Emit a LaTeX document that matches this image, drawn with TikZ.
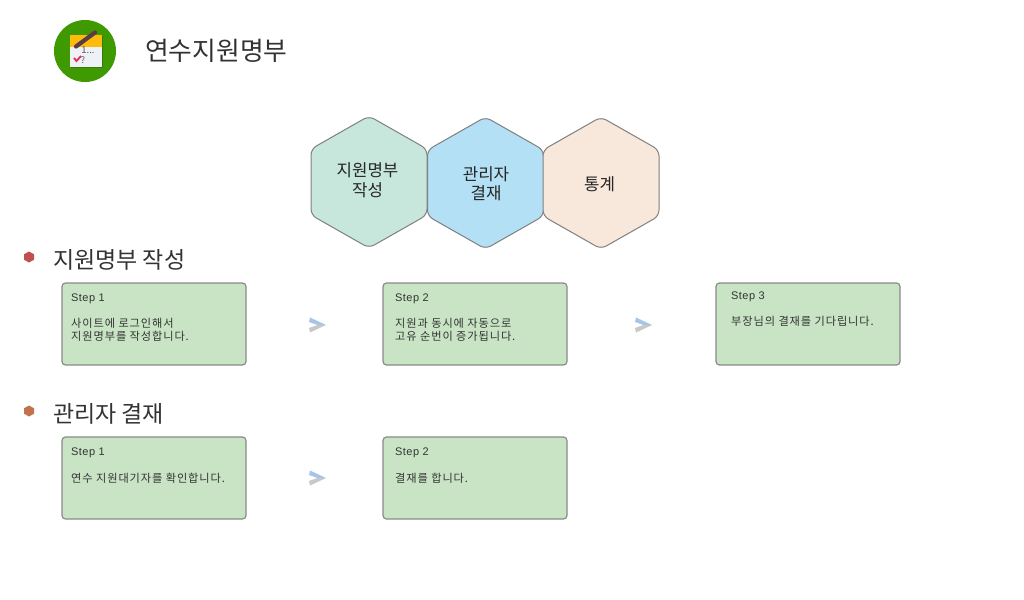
\documentclass[tikz,border=0pt]{standalone}
\usepackage{fontspec}
\setmainfont{Noto Sans CJK KR}
\newfontfamily\latinf{Liberation Sans}[LetterSpace=4]
\newfontfamily\bodyf{Noto Sans CJK KR}[LetterSpace=8]
\definecolor{boxgreen}{HTML}{C8E4C5}
\definecolor{boxline}{HTML}{8A8A8A}
\definecolor{hexa}{HTML}{C7E6DC}
\definecolor{hexb}{HTML}{B3E0F4}
\definecolor{hexc}{HTML}{F8E7DB}
\definecolor{hexline}{HTML}{808080}
\definecolor{txt}{HTML}{333333}
\definecolor{chevb}{HTML}{A6C5E8}
\definecolor{chevg}{HTML}{C8C8C8}
\definecolor{bulleta}{HTML}{C0504D}
\definecolor{bulletb}{HTML}{C2724E}
\definecolor{icongreen}{HTML}{3E9A00}
\definecolor{iconshadow}{HTML}{347A08}
\definecolor{iconpage}{HTML}{EEF2F6}
\definecolor{iconyellow}{HTML}{FDBC0B}
\definecolor{iconpen}{HTML}{5C3A46}
\definecolor{iconcheck}{HTML}{E8285A}
\tikzset{
  stepbox/.style={draw=boxline,line width=1.2pt,fill=boxgreen,rounded corners=3.5pt,minimum width=184pt,minimum height=82pt,inner sep=0pt},
  steptitle/.style={anchor=west,inner sep=0pt,font=\fontsize{11}{13}\selectfont,text=txt},
  stepbody/.style={anchor=north west,inner sep=0pt,align=left,font=\bodyf\fontsize{11.2}{13}\selectfont,text=txt},
  headtext/.style={anchor=west,inner sep=0pt,font=\fontsize{23}{26}\selectfont,text=txt},
  hexlabel/.style={inner sep=0pt,align=center,font=\fontsize{16.8}{19.5}\selectfont,text=black!85},
  hexshape/.style={draw=hexline,line width=1pt,rounded corners=6pt,line join=round},
}
\newcommand{\hexat}[5]{% cx cy hw hh fill
  \draw[hexshape,fill=#5] (#1,#2-#4) -- (#1+#3,#2-#4/2) -- (#1+#3,#2+#4/2) -- (#1,#2+#4) -- (#1-#3,#2+#4/2) -- (#1-#3,#2-#4/2) -- cycle;}
\newcommand{\chev}[2]{%
  \fill[chevg] (#1+1,#2+7.5) -- (#1+17,#2) -- (#1+8.5,#2) -- (#1,#2+3) -- cycle;
  \fill[chevb] (#1+1,#2-7.5) -- (#1+17,#2) -- (#1+8.5,#2) -- (#1,#2-3) -- cycle;}
\newcommand{\bullethex}[3]{%
  \fill[#3] (#1,#2-5.5) -- (#1+5,#2-2.7) -- (#1+5,#2+2.7) -- (#1,#2+5.5) -- (#1-5,#2+2.7) -- (#1-5,#2-2.7) -- cycle;}
\begin{document}
\begin{tikzpicture}[x=1pt,y=-1pt]
\useasboundingbox (0,0) rectangle (1024,599);
\fill[white] (0,0) rectangle (1024,599);
% icon
\fill[icongreen] (85,51) circle (31);
\fill[iconshadow] (71,36) rectangle (103,68);
\fill[iconpage] (70,47) rectangle (102,67);
\fill[iconyellow] (70,35) rectangle (102,47);
\draw[line width=4.2pt,line cap=round,draw=iconpen] (76,46.5) -- (95,32.5);
\node[inner sep=0pt,font=\fontsize{9.5}{10}\selectfont,text=black!65] (one) at (88,50.5) {1...};
\draw[line width=1.8pt,draw=iconcheck] (74,58) -- (76.5,61) -- (81,56);
\node[inner sep=0pt,font=\fontsize{9}{10}\selectfont,text=black!65] (qm) at (83,60) {?};
% title
\node[anchor=west,inner sep=0pt,font=\fontsize{25.8}{30}\selectfont,text=txt] (title) at (145,51) {연수지원명부};
% hexagons
\hexat{369}{182}{58}{66}{hexa}
\hexat{485.5}{183}{58}{66}{hexb}
\hexat{601}{183}{58}{66}{hexc}
\node[hexlabel] (h1) at (367.5,180) {지원명부\\작성};
\node[hexlabel] (h2) at (486,183.5) {관리자\\결재};
\node[hexlabel] (h3) at (599.5,184) {통계};
% section 1
\bullethex{29}{257}{bulleta}
\node[headtext] (s1) at (53,259.5) {지원명부 작성};
\node[stepbox] (b1) at (154,324) {};
\node[stepbox] (b2) at (475,324) {};
\node[stepbox] (b3) at (808,324) {};
\node[steptitle] (b1t) at (71,298.5) {\latinf Step 1};
\node[stepbody] (b1b) at (71,318.5) {사이트에 로그인해서\\지원명부를 작성합니다.};
\node[steptitle] (b2t) at (395,298.5) {\latinf Step 2};
\node[stepbody] (b2b) at (395,318.5) {지원과 동시에 자동으로\\고유 순번이 증가됩니다.};
\node[steptitle] (b3t) at (731,296.5) {\latinf Step 3};
\node[stepbody] (b3b) at (731,316.5) {부장님의 결재를 기다립니다.};
\chev{309}{325}
\chev{635}{325}
% section 2
\bullethex{29}{411}{bulletb}
\node[headtext] (s2) at (53,413.5) {관리자 결재};
\node[stepbox] (c1) at (154,478) {};
\node[stepbox] (c2) at (475,478) {};
\node[steptitle] (c1t) at (71,452.5) {\latinf Step 1};
\node[stepbody] (c1b) at (71,472.5) {연수 지원대기자를 확인합니다.};
\node[steptitle] (c2t) at (395,452.5) {\latinf Step 2};
\node[stepbody] (c2b) at (395,472.5) {결재를 합니다.};
\chev{309}{478}
\end{tikzpicture}
\end{document}
